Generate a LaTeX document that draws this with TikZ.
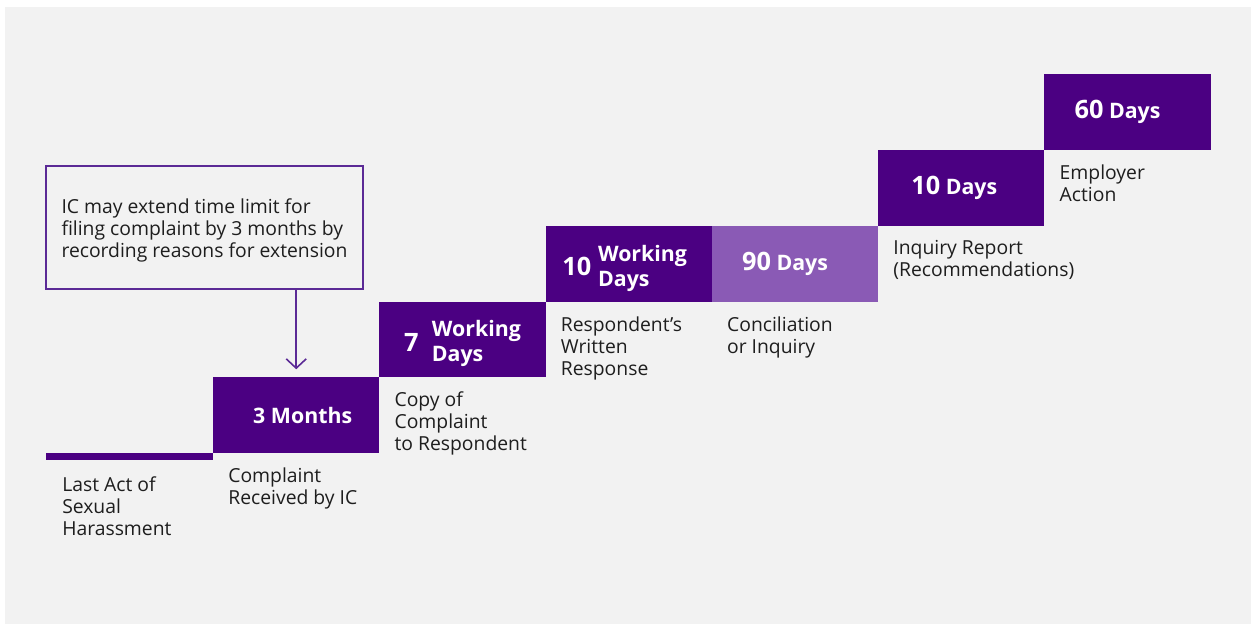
\documentclass[tikz,border=0pt]{standalone}
\usepackage{fontspec}
\setmainfont{Open Sans}
\usetikzlibrary{positioning,arrows.meta}
\definecolor{indigo}{HTML}{4B0082}
\definecolor{lila}{HTML}{8A5AB5}
\definecolor{fondo}{HTML}{F2F2F2}
\definecolor{marco}{HTML}{5B2A96}
\definecolor{texto}{HTML}{1E1E1E}
\newcommand\cifra[1]{{\fontsize{19}{19}\selectfont #1}}
\newcommand\dosl[2]{\rule[-18.1pt]{0pt}{53.6pt}\raisebox{0.6pt}{\begin{tabular}{@{}l@{}}#1\\#2\end{tabular}}}

\begin{document}
\begin{tikzpicture}[x=0.75pt, y=-0.75pt,
    bloc/.style={fill=indigo, 
        minimum width=124.7pt, minimum height=56.8pt, 
        text=white, font=\bfseries\fontsize{16}{18.75}\selectfont,
        inner sep=0pt, outer sep=0pt},
    barra/.style={fill=indigo, minimum width=125.3pt, minimum height=5.3pt,
        inner sep=0pt, outer sep=0pt},
    etiq/.style={text=texto, font=\fontsize{14.5}{16.5}\selectfont, 
        align=left, inner sep=0pt},
    aviso/.style={draw=marco, line width=1.2pt, text=texto,
        font=\fontsize{14.5}{16.5}\selectfont, align=left,
        minimum width=237.75pt, minimum height=92.25pt,
        inner sep=0pt, outer sep=0pt},
    flecha/.style={draw=marco, line width=1.2pt, 
        -{Straight Barb[length=7pt, width=15pt]}, shorten >=6pt}
    ]
    \fill[white] (0,0) rectangle (1251,624);
    \fill[fondo] (5,7) rectangle (1251,624);
    \node[barra, anchor=north west] (acto) at (46,453) {};
    \node[bloc, above right=0pt of acto] (meses) {\hspace*{9.75pt}3 Months};
    \node[bloc, above right=0pt of meses] (copia) {\cifra{7}\hspace{10pt}\dosl{Working}{Days}};
    \node[bloc, above right=0pt of copia] (respuesta) {\cifra{10}\hspace{5pt}\dosl{Working}{Days}\hspace*{6pt}};
    \node[bloc, fill=lila, right=0pt of respuesta] (conciliacion) {\cifra{90} Days\hspace*{15pt}};
    \node[bloc, above right=0pt of respuesta.north east -| conciliacion.east] (informe) {\cifra{10} Days\hspace*{10.5pt}};
    \node[bloc, above right=0pt of informe] (accion) {\cifra{60} Days\hspace*{15pt}};
    \node[etiq, below right=12.5pt and 12pt of acto.south west] (l-acto) {Last Act of\\Sexual\\Harassment};
    \node[etiq, below right=11pt and 11.25pt of meses.south west] (l-meses) {Complaint\\Received by IC};
    \node[etiq, below right=11pt and 11.25pt of copia.south west] (l-copia) {Copy of\\Complaint\\to Respondent};
    \node[etiq, below right=11pt and 11.25pt of respuesta.south west] (l-respuesta) {Respondent’s\\Written\\Response};
    \node[etiq, below right=11pt and 11.25pt of conciliacion.south west] (l-conciliacion) {Conciliation\\or Inquiry};
    \node[etiq, below right=11pt and 11.25pt of informe.south west] (l-informe) {Inquiry Report\\(Recommendations)};
    \node[etiq, below right=11pt and 11.25pt of accion.south west] (l-accion) {Employer\\Action};
    \node[aviso, anchor=north west] (plazo) at (46,166) {\rule{0pt}{16.2pt}IC may extend time limit for\\filing complaint by 3 months by\\recording reasons for extension};
    \draw[flecha] (meses.north |- plazo.south) -- (meses.north);
\end{tikzpicture}
\end{document}
